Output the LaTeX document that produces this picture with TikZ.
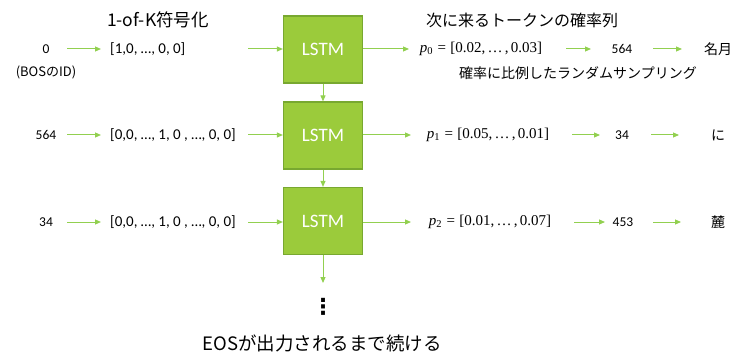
\documentclass[tikz,border=0pt]{standalone}
\usepackage{fontspec}
\setmainfont{Carlito}
\newfontfamily\cjk{Noto Sans CJK JP}
\newfontfamily\serif{Liberation Serif}
\newfontfamily\djv{DejaVu Sans}
\usetikzlibrary{arrows.meta}
\definecolor{boxfill}{HTML}{9BCB3B}
\definecolor{boxdraw}{HTML}{78A830}
\definecolor{arr}{HTML}{92D050}
\newcommand{\pv}[3]{\textit{p}\textsubscript{#1}\hspace{0.3em}=\hspace{0.3em}[#2,\hspace{0.15em}…\hspace{0.15em},\hspace{0.15em}#3]}
\begin{document}
\begin{tikzpicture}[x=1pt,y=-1pt,
  lstm/.style={draw=boxdraw,line width=1.2pt,fill=boxfill,minimum width=79pt,minimum height=67pt,inner sep=0pt,text=white,font=\fontsize{19}{22}\selectfont},
  con/.style={draw=arr,line width=1pt,-{Triangle[length=6pt,width=5pt]}},
  small/.style={font=\fontsize{13.5}{15}\selectfont,inner sep=0pt},
  vec/.style={font=\fontsize{15}{17}\selectfont,inner sep=0pt},
  prob/.style={font=\serif\fontsize{15}{17}\selectfont,inner sep=0pt},
  head/.style={font=\cjk\fontsize{17.5}{20}\selectfont,inner sep=0pt},
  tok/.style={font=\cjk\fontsize{14}{16}\selectfont,inner sep=0pt}]
\useasboundingbox (0,0) rectangle (732,353);
% LSTM boxes
\node[lstm] (l1) at (323,49.5) {LSTM};
\node[lstm] (l2) at (323,135.5) {LSTM};
\node[lstm] (l3) at (323,221) {LSTM};
\coordinate (down) at (323,283);
\draw[con] (l1) -- (l2);
\draw[con] (l2) -- (l3);
\draw[con] (l3) -- (down);
\node[inner sep=0pt,font=\djv\bfseries\fontsize{22}{24}\selectfont] (dots) at (323,307) {⋮};
\node[font=\cjk\fontsize{18.5}{20}\selectfont,inner sep=0pt] (eos) at (322,343) {EOSが出力されるまで続ける};
% headers
\node[head] (h1) at (158,20) {1-of-K符号化};
\node[font=\cjk\fontsize{16}{20}\selectfont,inner sep=0pt] (h2) at (522,20) {次に来るトークンの確率列};
\node[font=\cjk\fontsize{14}{15}\selectfont,inner sep=0pt] (samp) at (578,73) {確率に比例したランダムサンプリング};
% left inputs
\node[small] (i1) at (46,49) {0};
\node[font=\cjk\fontsize{13}{15}\selectfont,inner sep=0pt] (bos) at (46,72) {(BOSのID)};
\node[small] (i2) at (46,135) {564};
\node[small] (i3) at (46,222) {34};
\node[vec,anchor=west] (v1) at (110,49) {[1,0, \dots, 0, 0]};
\node[vec,anchor=west] (v2) at (110,135) {[0,0, \dots, 1, 0 , \dots, 0, 0]};
\node[vec,anchor=west] (v3) at (110,222) {[0,0, \dots, 1, 0 , \dots, 0, 0]};
\foreach \r in {1,2,3}{
  \coordinate (a\r s) at (67,0 |- i\r);
  \coordinate (a\r e) at (101,0 |- i\r);
  \draw[con] (a\r s) -- (a\r e);
  \coordinate (b\r s) at (248,0 |- i\r);
  \draw[con] (b\r s) -- (l\r.west |- i\r);
}
% right outputs
\node[prob] (p1) at (481,49) {\pv{0}{0.02}{0.03}};
\node[prob] (p2) at (488,135) {\pv{1}{0.05}{0.01}};
\node[prob] (p3) at (490,222) {\pv{2}{0.01}{0.07}};
\node[small] (n1) at (622,49) {564};
\node[small] (n2) at (622,135) {34};
\node[small] (n3) at (623,222) {453};
\node[tok] (t1) at (718,49) {名月};
\node[tok] (t2) at (718,135) {に};
\node[tok] (t3) at (718,222) {麓};
\coordinate (c1) at (409,49);
\coordinate (c2) at (411,135);
\coordinate (c3) at (411,222);
\draw[con] (l1.east |- c1) -- (c1);
\draw[con] (l2.east |- c2) -- (c2);
\draw[con] (l3.east |- c3) -- (c3);
\coordinate (d1s) at (566,49); \coordinate (d1e) at (591,49);
\coordinate (d2s) at (572,135); \coordinate (d2e) at (600,135);
\coordinate (d3s) at (574,222); \coordinate (d3e) at (605,222);
\coordinate (e1s) at (653,49); \coordinate (e1e) at (682,49);
\coordinate (e2s) at (651,135); \coordinate (e2e) at (679,135);
\coordinate (e3s) at (653,222); \coordinate (e3e) at (681,222);
\foreach \r in {1,2,3}{
  \draw[con] (d\r s) -- (d\r e);
  \draw[con] (e\r s) -- (e\r e);
}
\end{tikzpicture}
\end{document}
